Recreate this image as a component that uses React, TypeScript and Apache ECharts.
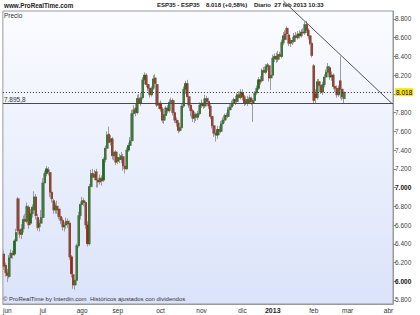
import React, { useEffect, useRef } from "react";
import * as echarts from "echarts";

// Daily candles ESP35 [open, close, low, high]
const ohlc: number[][] = [
  [6290,6160,6120,6330],[6170,6090,6050,6200],[6090,6060,5990,6130],[6050,6250,6030,6280],[6250,6300,6220,6340],
  [6300,6280,6240,6330],[6290,6430,6270,6450],[6430,6520,6380,6560],[6880,6540,6500,6900],[6550,6500,6460,6600],
  [6500,6560,6450,6610],[6560,6660,6520,6700],[6660,6640,6600,6720],[6640,6800,6620,6840],[6790,6600,6560,6810],
  [6620,6720,6600,6770],[6720,6790,6680,6820],[6760,6900,6720,6960],[6900,6700,6660,6930],[6680,6570,6540,6720],
  [6580,6620,6530,6660],[6620,6680,6600,6760],[6680,7050,6660,7100],[7050,7150,7020,7180],[7150,7200,7120,7230],
  [7190,7170,7130,7220],[7160,6950,6900,7180],[6950,6880,6840,6980],[6860,6760,6720,6880],[6760,6810,6720,6840],
  [6800,6760,6720,6860],[6770,6690,6660,6800],[6690,6650,6610,6720],[6650,6580,6540,6680],[6580,6600,6530,6630],
  [6600,6640,6560,6680],[6640,6610,6570,6670],[6620,6260,6230,6650],[6260,6080,6040,6280],[6070,5960,5920,6100],
  [5960,6010,5910,6050],[6010,6380,5990,6400],[6380,6700,6360,6740],[6700,6820,6660,6850],[6820,6860,6780,6900],
  [6860,6840,6800,6890],[6840,6600,6560,6860],[6600,6400,6370,6640],[6400,7010,6380,7040],[7010,7150,6980,7190],
  [7150,7110,7060,7200],[7110,7140,7080,7190],[7170,7080,7000,7200],[7080,7060,7000,7110],[7060,7100,7030,7140],
  [7100,7070,7020,7130],[7080,7300,7060,7320],[7300,7420,7270,7450],[7420,7560,7400,7600],[7570,7480,7440,7650],
  [7490,7520,7450,7560],[7520,7340,7300,7540],[7340,7380,7290,7420],[7380,7270,7240,7400],[7280,7320,7250,7360],
  [7320,7300,7260,7360],[7300,7340,7260,7380],[7330,7230,7180,7360],[7230,7200,7150,7260],[7200,7400,7190,7430],
  [7400,7450,7380,7480],[7450,7500,7420,7540],[7500,7790,7480,7830],[7790,7830,7760,7880],[7850,7800,7760,7900],
  [7800,7950,7780,7990],[7950,7900,7880,8000],[7900,7960,7870,8010],[7960,8150,7940,8180],[8150,8200,8100,8230],
  [8200,8100,8070,8220],[8100,8060,8030,8140],[8060,7990,7960,8090],[7990,8060,7970,8080],[8060,8160,8040,8200],
  [8170,8110,8090,8210],[8100,7880,7860,8110],[7880,7900,7840,7930],[7900,7840,7810,7930],[7840,7720,7690,7860],
  [7720,7780,7680,7800],[7770,7850,7740,7870],[7850,7820,7790,7880],[7820,7910,7800,7940],[7910,7930,7880,7960],
  [7930,7800,7770,7950],[7800,7720,7690,7820],[7720,7690,7650,7750],[7690,7610,7580,7720],[7610,7640,7590,7680],
  [7640,7870,7620,7900],[7870,8050,7850,8080],[8050,8110,8000,8140],[8110,7970,7940,8150],[7970,7880,7850,7990],
  [7880,7820,7760,7900],[7820,7740,7700,7840],[7740,7780,7690,7810],[7780,7750,7710,7800],[7750,7790,7720,7820],
  [7790,7880,7770,7910],[7880,7900,7850,7940],[7900,7870,7840,7950],[7870,7950,7850,7990],[7950,7920,7890,7980],
  [7920,7870,7840,7960],[7870,7760,7730,7890],[7760,7660,7630,7780],[7660,7580,7540,7690],[7580,7560,7490,7610],
  [7560,7620,7520,7660],[7620,7600,7560,7660],[7600,7680,7580,7710],[7680,7720,7650,7750],[7720,7770,7690,7790],
  [7770,7760,7720,7800],[7760,7830,7740,7860],[7830,7860,7800,7890],[7860,7900,7830,7930],[7900,7940,7870,7960],
  [7940,7920,7880,7980],[7920,7990,7900,8010],[7990,7960,7920,8030],[7960,8020,7940,8050],[8010,7970,7930,8050],
  [7970,7900,7870,7990],[7900,7940,7880,7970],[7940,7900,7870,7980],[7910,7960,7890,7990],[7950,7920,7880,7970],
  [7900,7930,7700,7950],[7930,8010,7910,8030],[8010,8060,7990,8090],[8060,8150,8040,8180],[8150,8130,8100,8190],
  [8140,8250,8120,8270],[8250,8230,8190,8290],[8230,8290,8210,8320],[8290,8310,8250,8330],[8300,8170,8130,8320],
  [8170,8200,8040,8230],[8200,8380,8180,8420],[8380,8400,8340,8430],[8400,8370,8330,8440],[8370,8420,8340,8460],
  [8420,8400,8370,8450],[8400,8550,8380,8580],[8550,8620,8520,8660],[8640,8580,8540,8680],[8700,8640,8610,8720],
  [8630,8540,8510,8650],[8540,8570,8500,8600],[8570,8560,8520,8610],[8560,8620,8540,8650],[8620,8600,8570,8660],
  [8600,8640,8580,8670],[8640,8620,8590,8680],[8620,8660,8600,8690],[8660,8650,8620,8700],[8650,8740,8630,8770],
  [8740,8680,8650,8780],[8680,8620,8580,8700],[8620,8540,8520,8640],[8540,8410,8390,8560],[8300,7930,7900,8320],
  [8000,7960,7896,8050],[7960,8130,7940,8160],[8130,8090,8040,8160],[8090,8020,8000,8120],[8020,8100,7990,8130],
  [8100,8180,8070,8210],[8180,8230,8150,8260],[8230,8290,8200,8330],[8280,8180,8150,8300],[8180,8200,8140,8240],
  [8200,8080,8050,8220],[8080,8060,8020,8120],[8060,7990,7960,8090],[7990,8060,7970,8090],[8140,8050,7950,8400],
  [8050,7970,7930,8080],[7950,8018,7900,8040],
];

const TOTAL_SLOTS = 219; // trading-day slots on the axis (data + empty space up to April)
const monthLabels = ["jun", "jul", "ago", "sep", "oct", "nov", "dic", "2013", "feb", "mar", "abr"];
const monthLabelIndex = [2, 22, 44, 64, 88, 111, 134, 151, 174, 193, 216];
const yTickValues = [5800, 6000, 6200, 6400, 6600, 6800, 7000, 7200, 7400, 7600, 7800, 8000, 8200, 8400, 8600, 8800];
const yLabelValues = [5800, 6000, 6200, 6400, 6600, 6800, 7000, 7200, 7400, 7600, 7800, 8200, 8400, 8600, 8800];
const lastPrice = 8018;
const lastPriceText = "8.018";
const supportLevel = 7895.8;
const supportText = "7.895,8";
const trendIdx = [157, 218];
const trendPrice = [8991, 7896];

const FONT = "'Liberation Sans', Arial, sans-serif";

function fmtThousands(v: number): string {
  const th = Math.floor(v / 1000);
  const rest = String(v % 1000).padStart(3, "0");
  return th + "." + rest;
}

export default function App() {
  const ref = useRef<HTMLDivElement>(null);
  useEffect(() => {
    document.body.style.margin = "0";
    if (!ref.current) return;
    const chart = echarts.init(ref.current, null, { renderer: "svg" });
    const categories = Array.from({ length: TOTAL_SLOTS }, (_, i) => String(i));
    const labelAt: Record<number, string> = {};
    monthLabelIndex.forEach((idx, k) => (labelAt[idx] = monthLabels[k]));

    const wickData = ohlc.map((d) => [d[0], d[1], d[2], d[3]]);
    const bodyData = ohlc.map((d) => [d[0], d[1], Math.min(d[0], d[1]), Math.max(d[0], d[1])]);

    chart.setOption({
      animation: false,
      textStyle: { fontFamily: FONT },
      grid: {
        left: 2,
        top: 11,
        right: 27,
        bottom: 11,
        show: true,
        borderColor: "#9a9a9a",
        borderWidth: 1,
        backgroundColor: new echarts.graphic.LinearGradient(0, 0, 0, 1, [
          { offset: 0, color: "#fbfcff" },
          { offset: 1, color: "#dbe3fa" },
        ]),
      },
      xAxis: {
        type: "category",
        data: categories,
        boundaryGap: true,
        axisLine: { show: true, lineStyle: { color: "#9a9a9a" } },
        axisTick: { show: false },
        splitLine: { show: false },
        axisLabel: {
          interval: 0,
          margin: 3,
          fontSize: 6.5,
          color: "#333",
          fontFamily: FONT,
          formatter: (_v: string, idx: number) => {
            const t = labelAt[idx];
            if (!t) return "";
            return t === "2013" ? "{b|" + t + "}" : t;
          },
          rich: { b: { fontWeight: "bold", fontSize: 7, color: "#222", fontFamily: FONT } },
        },
      },
      yAxis: {
        type: "value",
        position: "right",
        min: 5757,
        max: 8885,
        scale: true,
        splitLine: { show: false },
        axisLine: { show: true, lineStyle: { color: "#9a9a9a" } },
        axisTick: { show: true, length: 3, customValues: yTickValues, lineStyle: { color: "#888" } },
        axisLabel: {
          customValues: yLabelValues,
          margin: 2,
          fontSize: 6.5,
          color: "#444",
          fontFamily: FONT,
          formatter: (v: number) => {
            const s = fmtThousands(v);
            return v % 1000 === 0 ? "{b|" + s + "}" : s;
          },
          rich: { b: { fontWeight: "bold", fontSize: 6.5, color: "#111", fontFamily: FONT } },
        },
      },
      series: [
        {
          type: "candlestick",
          name: "wick",
          data: wickData,
          barWidth: 2.6,
          itemStyle: {
            color: "#b0b0b0",
            color0: "#b0b0b0",
            borderColor: "#9c9c9c",
            borderColor0: "#9c9c9c",
            borderWidth: 1,
          },
          silent: true,
        },
        {
          type: "candlestick",
          name: "body",
          data: bodyData,
          barWidth: 1.6,
          itemStyle: {
            color: "#1f6e1f",
            color0: "#9a2810",
            borderColor: "#1f6e1f",
            borderColor0: "#9a2810",
            borderWidth: 0.6,
          },
          silent: true,
          markLine: {
            symbol: "none",
            silent: true,
            animation: false,
            data: [
              {
                yAxis: lastPrice,
                lineStyle: { type: [1, 2], color: "#333", width: 1 },
                label: {
                  show: true,
                  position: "end",
                  formatter: lastPriceText,
                  backgroundColor: "#f7e600",
                  color: "#000",
                  fontSize: 6.5,
                  fontFamily: FONT,
                  padding: [1, 1, 0, 1],
                  distance: 2,
                },
              },
              {
                yAxis: supportLevel,
                lineStyle: { type: "solid", color: "#4a4a4a", width: 1 },
                label: {
                  show: true,
                  position: "insideStartTop",
                  formatter: supportText,
                  color: "#333",
                  fontSize: 6.5,
                  fontFamily: FONT,
                  distance: 1,
                },
              },
            ],
          },
        },
        {
          type: "line",
          name: "trend",
          data: [
            [trendIdx[0], trendPrice[0]],
            [trendIdx[1], trendPrice[1]],
          ],
          clip: false,
          showSymbol: false,
          symbol: "none",
          silent: true,
          lineStyle: { color: "#555", width: 1 },
          z: 5,
        },
      ],
      graphic: [
        {
          type: "text",
          left: 4,
          top: 2,
          style: { text: "www.ProRealTime.com", font: "bold 6.3px " + FONT, fill: "#222" },
        },
        {
          type: "text",
          left: 157,
          top: 2,
          style: { text: "ESP35 - ESP35", font: "bold 6px " + FONT, fill: "#222" },
        },
        {
          type: "text",
          left: 206,
          top: 2,
          style: { text: "8.018 (+0,58%)", font: "bold 6px " + FONT, fill: "#222" },
        },
        {
          type: "text",
          left: 254,
          top: 2,
          style: { text: "Diario  27 feb 2013 10:33", font: "bold 6px " + FONT, fill: "#222" },
        },
        {
          type: "text",
          left: 4,
          top: 12,
          style: { text: "Precio", font: "6.5px " + FONT, fill: "#333" },
        },
        {
          type: "text",
          left: 3,
          top: 296,
          style: {
            text: "© ProRealTime by Interdin.com  Históricos ajustados con dividendos",
            font: "6px " + FONT,
            fill: "#333",
          },
        },
      ],
    });
    return () => chart.dispose();
  }, []);
  return <div ref={ref} style={{ width: 420, height: 315 }} />;
}
